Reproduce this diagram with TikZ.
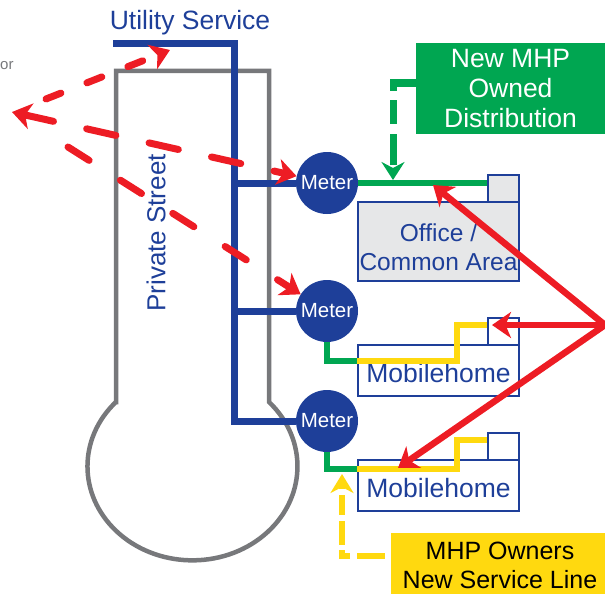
\documentclass[tikz,border=0pt]{standalone}
\usepackage{fontspec}
\setmainfont{Liberation Sans}
\usepackage{xcolor}
\usetikzlibrary{arrows.meta,calc}
\definecolor{utilblue}{HTML}{1E3F99}
\definecolor{newgreen}{HTML}{00A651}
\definecolor{newyellow}{HTML}{FFD90F}
\definecolor{alertred}{HTML}{ED1C24}
\definecolor{streetgray}{HTML}{77787B}
\definecolor{officegray}{HTML}{E6E7E8}

\begin{document}
\begin{tikzpicture}[x=1pt,y=1pt,font=\fontsize{26.5}{30}\selectfont,
		meter/.style={circle,fill=utilblue,text=white,minimum size=62pt,inner sep=0pt,font=\fontsize{20.5}{24}\selectfont},
		lot/.style={draw=utilblue,line width=1.8pt,minimum width=161pt,inner sep=0pt},
		lotname/.style={text=utilblue,inner sep=0pt,align=center},
		tab/.style={draw=utilblue,line width=1.8pt,minimum width=31pt,minimum height=27pt,inner sep=0pt},
		service/.style={utilblue,line width=7pt},
		green/.style={newgreen,line width=6.5pt},
		yellow/.style={newyellow,line width=6.5pt},
		redtip/.style={-{Stealth[length=19pt,width=26pt,inset=5.5pt]}},
		callout/.style={alertred,line width=6.5pt,redtip},
		fan/.style={alertred,line width=7pt,line cap=round,redtip}]
	\useasboundingbox (0,0) rectangle (605,-594);
	% street
	\draw[streetgray,line width=4.5pt] (116,-402) -- (116,-71) -- (269,-71) -- (269,-402)
		arc[start angle=43.2,end angle=-223.2,x radius=105,y radius=94] -- cycle;
	\node[utilblue,rotate=90,font=\fontsize{26}{30}\selectfont] (street) at (156,-233) {Private Street};
	\node[utilblue] (utility) at (190,-23) {Utility Service};
	\node[streetgray,anchor=west,inner sep=0pt,font=\fontsize{15}{18}\selectfont] (cutoff) at (0,-66) {or};
	% meters
	\node[meter] (M1) at (327,-183) {Meter};
	\node[meter] (M2) at (327,-311) {\raisebox{-2pt}{Meter}};
	\node[meter] (M3) at (327,-421) {\raisebox{-2pt}{Meter}};
	\coordinate (feed) at (234.5,-44);
	\draw[service] (113,-44) -- (feed) -- (feed |- M3) -- (M3);
	\draw[service] (feed |- M1) -- (M1);
	\draw[service] (feed |- M2) -- (M2);
	% lots
	\node[lot,fill=officegray,minimum height=79pt] (office) at (438.5,-241.5) {};
	\node[lotname,font=\fontsize{24.5}{29}\selectfont] (officename) at ([yshift=-6pt]office.center) {Office /\\Common Area};
	\node[tab,fill=officegray] (T1) at (503.5,-188.5) {};
	\node[lot,minimum height=51pt] (home1) at (438.5,-370.5) {};
	\node[lotname] (homename1) at ([yshift=-3pt]home1.center) {Mobilehome};
	\node[tab] (T2) at (503.5,-331.5) {};
	\node[lot,minimum height=51pt] (home2) at (438.5,-485.5) {};
	\node[lotname] (homename2) at ([yshift=-3pt]home2.center) {Mobilehome};
	\node[tab] (T3) at (503.5,-446.5) {};
	% new lines
	\draw[green] (M1) -- (M1 -| T1.west);
	\draw[green] (M2) |- ([yshift=9.5pt]home1.west);
	\draw[green] (M3) |- ([yshift=16.5pt]home2.west);
	\draw[yellow] ([yshift=9.5pt]home1.west) -- ++(100,0) |- ([yshift=6.5pt]T2.west);
	\draw[yellow] ([yshift=16.5pt]home2.west) -- ++(100,0) |- ([yshift=6.5pt]T3.west);
	% boxes
	\node[fill=newgreen,text=white,minimum width=189pt,minimum height=91pt,inner sep=0pt,align=center,font=\fontsize{26.5}{29.8}\selectfont] (greenbox) at (510.5,-88.5) {New MHP\\Owned\\Distribution};
	\node[fill=newyellow,minimum width=214pt,minimum height=61pt,inner sep=0pt] (yellowbox) at (498,-563.5) {};
	\node[text=black,inner sep=0pt,align=center,font=\fontsize{25}{29}\selectfont] (yellowname) at ([xshift=2pt,yshift=-1.5pt]yellowbox.center) {MHP Owners\\New Service Line};
	\coordinate (tap) at (393,-180);
	\coordinate (drop) at (342,-474);
	\draw[newgreen,line width=7pt,dash pattern=on 31pt off 9pt on 24pt off 10pt,-{Stealth[length=18pt,width=23pt,inset=6pt]}]
		([yshift=5.5pt]greenbox.west) -| (tap);
	\draw[newyellow,line width=6pt,dash phase=104pt,dash pattern=on 28pt off 7pt on 14pt off 5pt on 24pt off 6pt on 20pt off 6pt,-{Stealth[length=19pt,width=23pt,inset=6pt]}]
		([yshift=7.5pt]yellowbox.west) -| (drop);
	% solid red
	\coordinate (R) at (605,-325);
	\draw[callout] (R) -- (433,-185);
	\draw[callout] (R) -- (492,-325);
	\draw[callout] (R) -- (398,-468);
	% dashed red
	\coordinate (hub) at (12,-112);
	\draw[fan,dash pattern=on 16pt off 28pt] (46,-99) -- (170,-50);
	\draw[fan,dash pattern=on 30pt off 34pt,{Stealth[length=19pt,width=26pt,inset=5.5pt]}-{Stealth[length=19pt,width=26pt,inset=5.5pt]}] (hub) -- (M1);
	\draw[fan,dash pattern=on 25pt off 37pt] (68,-147) -- (M2);
\end{tikzpicture}
\end{document}
